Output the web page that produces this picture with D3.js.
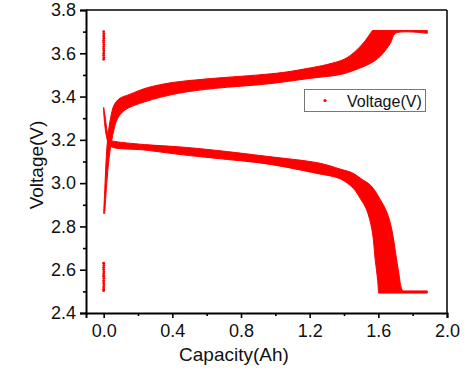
<!DOCTYPE html>
<html>
<head>
<meta charset="utf-8">
<script src="https://cdn.jsdelivr.net/npm/d3@7"></script>
<style>
  body { margin: 0; background: #fff; }
  text { font-family: "Liberation Sans", Arial, sans-serif; fill: #111; }
</style>
</head>
<body>
<div id="chart"></div>
<script>
// axis ticks
const xTicks = [0.0, 0.4, 0.8, 1.2, 1.6, 2.0];
const xMinor = [0.2, 0.6, 1.0, 1.4, 1.8];
const yTicks = [2.4, 2.6, 2.8, 3.0, 3.2, 3.4, 3.6, 3.8];
const yMinor = [2.5, 2.7, 2.9, 3.1, 3.3, 3.5, 3.7];

// charge curve band: upper-left edge (early cycles) and lower-right edge (late cycles)
const chargeOuterCap = [0.000, 0.008, 0.015, 0.025, 0.040, 0.060, 0.090, 0.150, 0.250, 0.400, 0.550, 0.700, 0.900, 1.050, 1.200, 1.300, 1.400, 1.460, 1.520, 1.565];
const chargeOuterV   = [2.860, 3.000, 3.120, 3.220, 3.300, 3.360, 3.390, 3.410, 3.440, 3.465, 3.478, 3.488, 3.500, 3.512, 3.532, 3.548, 3.572, 3.605, 3.655, 3.705];
const chargeTopCap   = [1.565, 1.885];
const chargeTopV     = [3.705, 3.705];
const chargeInnerCap = [1.885, 1.700, 1.670, 1.610, 1.550, 1.460, 1.380, 1.200, 0.950, 0.650, 0.435, 0.240, 0.124, 0.082, 0.052, 0.032, 0.018, 0.006];
const chargeInnerV   = [3.692, 3.692, 3.646, 3.585, 3.552, 3.522, 3.502, 3.484, 3.458, 3.438, 3.415, 3.376, 3.338, 3.300, 3.220, 3.120, 3.000, 2.860];

// discharge curve band: upper-right edge and lower-left edge
const dischargeOuterCap = [0.000, 0.010, 0.020, 0.035, 0.050, 0.240, 0.435, 0.650, 0.950, 1.260, 1.378, 1.455, 1.500, 1.555, 1.611, 1.650, 1.680, 1.700, 1.720, 1.732, 1.742];
const dischargeOuterV   = [3.350, 3.300, 3.240, 3.200, 3.195, 3.178, 3.168, 3.152, 3.124, 3.092, 3.065, 3.045, 3.020, 2.990, 2.925, 2.865, 2.780, 2.680, 2.580, 2.520, 2.502];
const dischargeFloorCap = [1.742, 1.885, 1.885, 1.601];
const dischargeFloorV   = [2.502, 2.502, 2.492, 2.492];
const dischargeInnerCap = [1.601, 1.596, 1.582, 1.563, 1.530, 1.494, 1.455, 1.378, 1.242, 0.950, 0.649, 0.435, 0.240, 0.050, 0.030, 0.015, 0.005, 0.000];
const dischargeInnerV   = [2.492, 2.550, 2.645, 2.784, 2.880, 2.930, 2.975, 3.020, 3.045, 3.089, 3.115, 3.133, 3.153, 3.166, 3.180, 3.220, 3.280, 3.330];

// rest points logged at zero capacity
const restCap = [0.000, 0.001, 0.000, 0.001, 0.000, 0.000, 0.001, 0.000, 0.000, 0.001, 0.000, 0.000, 0.001, 0.000,
                 0.000, 0.001, 0.000, 0.000, 0.001, 0.000, 0.000, 0.001, 0.000, 0.000, 0.001, 0.000, 0.000, 0.000];
const restV   = [3.700, 3.690, 3.680, 3.670, 3.660, 3.650, 3.640, 3.630, 3.620, 3.610, 3.600, 3.590, 3.580, 3.572,
                 2.630, 2.620, 2.610, 2.600, 2.590, 2.580, 2.570, 2.560, 2.550, 2.540, 2.530, 2.520, 2.510, 2.503];

const W = 475, H = 370;
const mLeft = 86, mRight = 447, mTop = 10, mBottom = 313;
const red = "#ff0000";

const svg = d3.select("#chart").append("svg")
  .attr("width", W).attr("height", H);

const x = d3.scaleLinear().domain([-0.103, 2.0]).range([mLeft, mRight]);
const y = d3.scaleLinear().domain([2.4, 3.8]).range([mBottom, mTop]);

const smooth = d3.line().curve(d3.curveCatmullRom.alpha(0.5));
const straight = d3.line();

// joins edge segments into one closed outline; smooth edges keep curves, straight ones keep corners
function band(parts) {
  let d = "";
  parts.forEach(function(p, k) {
    const pts = p.cap.map((c, i) => [x(c), y(p.v[i])]);
    let seg = (p.smooth ? smooth : straight)(pts);
    if (k > 0) seg = "L" + seg.slice(1);
    d += seg;
  });
  return d + "Z";
}

const g = svg.append("g");

g.append("path")
  .attr("d", band([
    {cap: chargeOuterCap, v: chargeOuterV, smooth: true},
    {cap: chargeTopCap, v: chargeTopV, smooth: false},
    {cap: chargeInnerCap, v: chargeInnerV, smooth: true}
  ]))
  .attr("fill", red).attr("stroke", red).attr("stroke-width", 1)
  .attr("stroke-linejoin", "round");

g.append("path")
  .attr("d", band([
    {cap: dischargeOuterCap, v: dischargeOuterV, smooth: true},
    {cap: dischargeFloorCap, v: dischargeFloorV, smooth: false},
    {cap: dischargeInnerCap, v: dischargeInnerV, smooth: true}
  ]))
  .attr("fill", red).attr("stroke", red).attr("stroke-width", 1)
  .attr("stroke-linejoin", "round");

g.selectAll(".rest")
  .data(restCap.map((c, i) => ({c: c, v: restV[i]})))
  .enter().append("circle")
  .attr("class", "rest")
  .attr("cx", d => x(d.c))
  .attr("cy", d => y(d.v))
  .attr("r", 1.4)
  .attr("fill", red);

// axes
svg.append("g")
  .attr("transform", "translate(0," + mBottom + ")")
  .call(d3.axisBottom(x).tickValues(xTicks).tickFormat(d3.format(".1f")).tickSize(5).tickPadding(6));
svg.append("g")
  .attr("transform", "translate(0," + mBottom + ")")
  .call(d3.axisBottom(x).tickValues(xMinor).tickFormat("").tickSize(3))
  .select(".domain").remove();

svg.append("g")
  .attr("transform", "translate(" + mLeft + ",0)")
  .call(d3.axisLeft(y).tickValues(yTicks).tickFormat(d3.format(".1f")).tickSize(6).tickPadding(4));
svg.append("g")
  .attr("transform", "translate(" + mLeft + ",0)")
  .call(d3.axisLeft(y).tickValues(yMinor).tickFormat("").tickSize(3))
  .select(".domain").remove();

svg.selectAll(".domain").attr("stroke", "#000").attr("stroke-width", 2);
svg.selectAll(".tick line").attr("stroke", "#000").attr("stroke-width", 1.6);
svg.selectAll(".tick text").attr("font-size", 18).style("fill", "#111")
  .attr("font-family", "'Liberation Sans', Arial, sans-serif");

// frame top and right
svg.append("line").attr("x1", mLeft).attr("x2", mRight).attr("y1", mTop).attr("y2", mTop)
  .attr("stroke", "#000").attr("stroke-width", 1.5);
svg.append("line").attr("x1", mRight).attr("x2", mRight).attr("y1", mTop).attr("y2", mBottom)
  .attr("stroke", "#000").attr("stroke-width", 1.5);

// titles
svg.append("text")
  .attr("x", 234).attr("y", 361)
  .attr("text-anchor", "middle").attr("font-size", 19)
  .text("Capacity(Ah)");

svg.append("text")
  .attr("transform", "translate(43,165) rotate(-90)")
  .attr("text-anchor", "middle").attr("font-size", 19)
  .text("Voltage(V)");

// legend
const leg = svg.append("g");
leg.append("rect")
  .attr("x", 304.5).attr("y", 89.5).attr("width", 121).attr("height", 22)
  .attr("fill", "#fff").attr("stroke", "#777").attr("stroke-width", 1);
leg.append("circle").attr("cx", 325).attr("cy", 100.5).attr("r", 1.6).attr("fill", red);
leg.append("text").attr("x", 347).attr("y", 106.5).attr("font-size", 16).text("Voltage(V)");
</script>
</body>
</html>
